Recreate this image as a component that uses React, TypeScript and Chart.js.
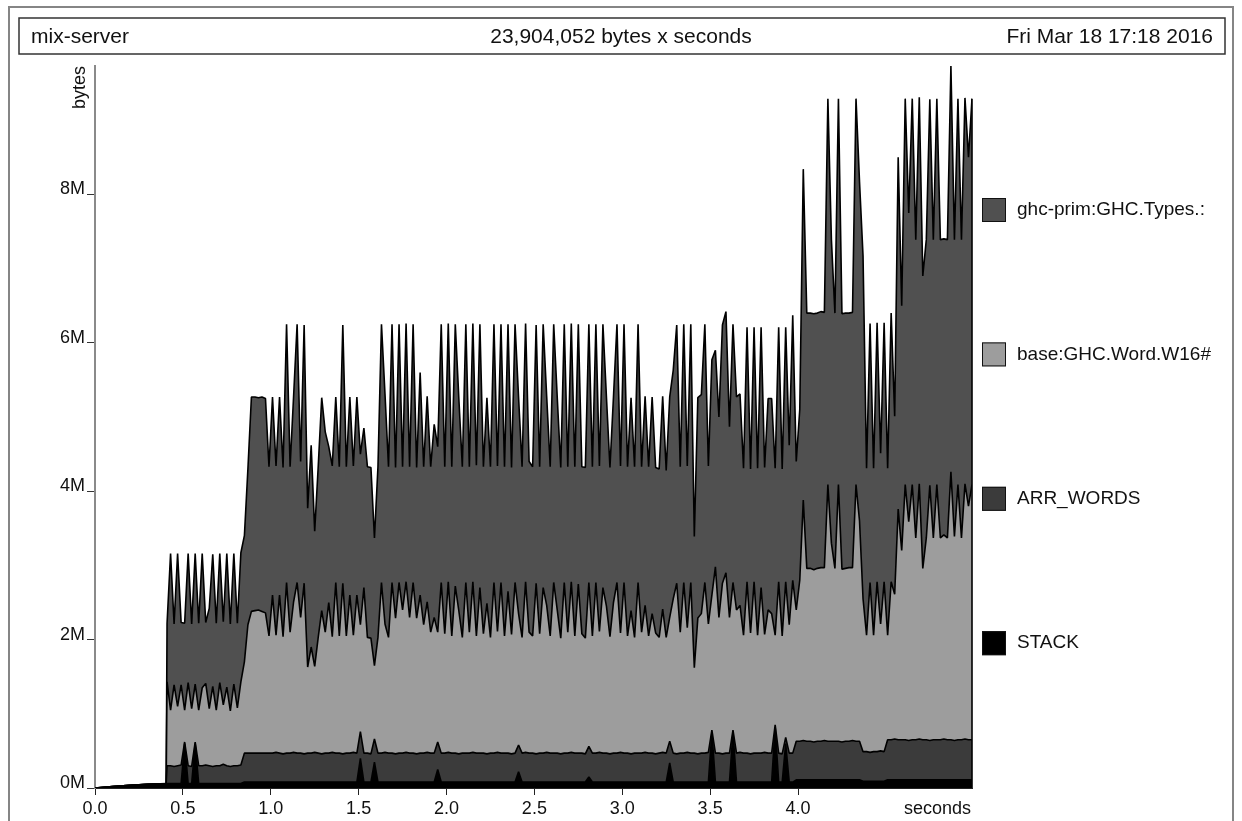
import React, { useEffect, useRef } from "react";
import { Chart, registerables } from "chart.js";

Chart.register(...registerables);

// ---- header texts ----
const TITLE_LEFT = "mix-server";
const TITLE_CENTER = "23,904,052 bytes x seconds";
const TITLE_RIGHT = "Fri Mar 18 17:18 2016";
const Y_UNIT = "bytes";
const X_UNIT = "seconds";

// ---- sample times (seconds) ----
const TIMES = [
  0, 0.1, 0.2, 0.3, 0.405,
  0.41, 0.43, 0.45, 0.47, 0.49, 0.51, 0.53, 0.55, 0.57, 0.59,
  0.61, 0.63, 0.65, 0.67, 0.69, 0.71, 0.73, 0.75, 0.77, 0.79,
  0.81, 0.83, 0.85, 0.87, 0.89, 0.91, 0.93, 0.95, 0.97, 0.99,
  1.01, 1.03, 1.05, 1.07, 1.09, 1.11, 1.13, 1.15, 1.17, 1.19,
  1.21, 1.23, 1.25, 1.27, 1.29, 1.31, 1.33, 1.35, 1.37, 1.39,
  1.41, 1.43, 1.45, 1.47, 1.49, 1.51, 1.53, 1.55, 1.57, 1.59,
  1.61, 1.63, 1.65, 1.67, 1.69, 1.71, 1.73, 1.75, 1.77, 1.79,
  1.81, 1.83, 1.85, 1.87, 1.89, 1.91, 1.93, 1.95, 1.97, 1.99,
  2.01, 2.03, 2.05, 2.07, 2.09, 2.11, 2.13, 2.15, 2.17, 2.19,
  2.21, 2.23, 2.25, 2.27, 2.29, 2.31, 2.33, 2.35, 2.37, 2.39,
  2.41, 2.43, 2.45, 2.47, 2.49, 2.51, 2.53, 2.55, 2.57, 2.59,
  2.61, 2.63, 2.65, 2.67, 2.69, 2.71, 2.73, 2.75, 2.77, 2.79,
  2.81, 2.83, 2.85, 2.87, 2.89, 2.91, 2.93, 2.95, 2.97, 2.99,
  3.01, 3.03, 3.05, 3.07, 3.09, 3.11, 3.13, 3.15, 3.17, 3.19,
  3.21, 3.23, 3.25, 3.27, 3.29, 3.31, 3.33, 3.35, 3.37, 3.39,
  3.41, 3.43, 3.45, 3.47, 3.49, 3.51, 3.53, 3.55, 3.57, 3.59,
  3.61, 3.63, 3.65, 3.67, 3.69, 3.71, 3.73, 3.75, 3.77, 3.79,
  3.81, 3.83, 3.85, 3.87, 3.89, 3.91, 3.93, 3.95, 3.97, 3.99,
  4.01, 4.03, 4.05, 4.07, 4.09, 4.11, 4.13, 4.15, 4.17, 4.19,
  4.21, 4.23, 4.25, 4.27, 4.29, 4.31, 4.33, 4.35, 4.37, 4.39,
  4.41, 4.43, 4.45, 4.47, 4.49, 4.51, 4.53, 4.55, 4.57, 4.59,
  4.61, 4.63, 4.65, 4.67, 4.69, 4.71, 4.73, 4.75, 4.77, 4.79,
  4.81, 4.83, 4.85, 4.87, 4.89, 4.91, 4.93, 4.95, 4.97, 4.99,
];

// ---- series values (millions of bytes) ----
const STACK = [
  0, 0.02, 0.035, 0.05, 0.06,
  0.06, 0.06, 0.06, 0.06, 0.06, 0.6, 0.06, 0.06, 0.6, 0.06,
  0.06, 0.06, 0.06, 0.06, 0.06, 0.06, 0.06, 0.06, 0.06, 0.06,
  0.06, 0.06, 0.08, 0.08, 0.08, 0.08, 0.08, 0.08, 0.08, 0.08,
  0.08, 0.08, 0.08, 0.08, 0.08, 0.08, 0.08, 0.08, 0.08, 0.08,
  0.08, 0.08, 0.08, 0.08, 0.08, 0.08, 0.08, 0.08, 0.08, 0.08,
  0.08, 0.08, 0.08, 0.08, 0.08, 0.4, 0.08, 0.08, 0.08, 0.35,
  0.08, 0.08, 0.08, 0.08, 0.08, 0.08, 0.08, 0.08, 0.08, 0.08,
  0.08, 0.08, 0.08, 0.08, 0.08, 0.08, 0.08, 0.25, 0.08, 0.08,
  0.08, 0.08, 0.08, 0.08, 0.08, 0.08, 0.08, 0.08, 0.08, 0.08,
  0.08, 0.08, 0.08, 0.08, 0.08, 0.08, 0.08, 0.08, 0.08, 0.08,
  0.22, 0.08, 0.08, 0.08, 0.08, 0.08, 0.08, 0.08, 0.08, 0.08,
  0.08, 0.08, 0.08, 0.08, 0.08, 0.08, 0.08, 0.08, 0.08, 0.08,
  0.15, 0.08, 0.08, 0.08, 0.08, 0.08, 0.08, 0.08, 0.08, 0.08,
  0.08, 0.08, 0.08, 0.08, 0.08, 0.08, 0.08, 0.08, 0.08, 0.08,
  0.08, 0.08, 0.08, 0.34, 0.08, 0.08, 0.08, 0.08, 0.08, 0.08,
  0.08, 0.08, 0.08, 0.08, 0.08, 0.75, 0.08, 0.08, 0.08, 0.08,
  0.08, 0.75, 0.08, 0.08, 0.08, 0.08, 0.08, 0.08, 0.08, 0.08,
  0.08, 0.08, 0.08, 0.82, 0.08, 0.08, 0.6, 0.08, 0.08, 0.11,
  0.11, 0.11, 0.11, 0.11, 0.11, 0.11, 0.11, 0.11, 0.11, 0.11,
  0.11, 0.11, 0.11, 0.11, 0.11, 0.11, 0.11, 0.11, 0.09, 0.09,
  0.09, 0.09, 0.09, 0.09, 0.09, 0.11, 0.11, 0.11, 0.11, 0.11,
  0.11, 0.11, 0.11, 0.11, 0.11, 0.11, 0.11, 0.11, 0.11, 0.11,
  0.11, 0.11, 0.11, 0.11, 0.11, 0.11, 0.11, 0.11, 0.11, 0.11,
];

const ARR_WORDS = [
  0, 0, 0, 0, 0,
  0.24, 0.24, 0.23, 0.24, 0.25, 0.02, 0.24, 0.23, 0.02, 0.24,
  0.24, 0.25, 0.24, 0.23, 0.24, 0.24, 0.26, 0.24, 0.23, 0.24,
  0.24, 0.25, 0.39, 0.39, 0.39, 0.39, 0.39, 0.39, 0.39, 0.39,
  0.39, 0.4, 0.39, 0.38, 0.39, 0.39, 0.4, 0.39, 0.39, 0.38,
  0.39, 0.39, 0.4, 0.39, 0.38, 0.39, 0.39, 0.4, 0.39, 0.39,
  0.38, 0.39, 0.39, 0.4, 0.39, 0.36, 0.39, 0.39, 0.38, 0.31,
  0.39, 0.39, 0.4, 0.39, 0.39, 0.38, 0.39, 0.39, 0.4, 0.39,
  0.39, 0.38, 0.39, 0.39, 0.4, 0.39, 0.39, 0.37, 0.39, 0.39,
  0.4, 0.39, 0.39, 0.38, 0.39, 0.39, 0.39, 0.4, 0.39, 0.39,
  0.39, 0.38, 0.39, 0.39, 0.4, 0.39, 0.39, 0.39, 0.38, 0.39,
  0.36, 0.39, 0.4, 0.39, 0.39, 0.38, 0.39, 0.39, 0.4, 0.39,
  0.39, 0.39, 0.38, 0.39, 0.39, 0.4, 0.39, 0.39, 0.39, 0.38,
  0.41, 0.39, 0.39, 0.4, 0.39, 0.39, 0.38, 0.39, 0.39, 0.4,
  0.39, 0.39, 0.38, 0.39, 0.39, 0.39, 0.4, 0.39, 0.39, 0.38,
  0.39, 0.4, 0.39, 0.29, 0.39, 0.38, 0.39, 0.39, 0.4, 0.39,
  0.39, 0.38, 0.39, 0.39, 0.4, 0.03, 0.39, 0.39, 0.38, 0.39,
  0.39, 0.03, 0.39, 0.4, 0.39, 0.39, 0.38, 0.39, 0.39, 0.39,
  0.4, 0.39, 0.39, 0.03, 0.39, 0.38, 0.08, 0.39, 0.39, 0.52,
  0.52, 0.53, 0.52, 0.52, 0.51, 0.52, 0.52, 0.53, 0.52, 0.52,
  0.52, 0.52, 0.51, 0.52, 0.52, 0.53, 0.52, 0.52, 0.4, 0.4,
  0.39, 0.4, 0.4, 0.41, 0.4, 0.54, 0.54, 0.55, 0.54, 0.54,
  0.54, 0.53, 0.54, 0.54, 0.55, 0.54, 0.54, 0.53, 0.54, 0.54,
  0.54, 0.55, 0.54, 0.54, 0.53, 0.54, 0.54, 0.55, 0.54, 0.54,
];

const WORD_W16 = [
  0, 0, 0, 0, 0,
  1.13, 0.75, 1.1, 0.8, 1.08, 0.43, 1.12, 0.78, 0.78, 0.75,
  1.05, 1.1, 0.77, 1.08, 0.75, 1.12, 0.8, 1.06, 0.75, 1.1,
  0.78, 1.12, 1.23, 1.73, 1.91, 1.92, 1.93, 1.91, 1.89, 1.58,
  2.13, 1.58, 2.13, 1.58, 2.3, 1.63, 2.03, 2.3, 1.83, 2.3,
  1.16, 1.43, 1.16, 1.56, 1.93, 1.63, 2.03, 1.56, 2.3, 1.58,
  2.3, 1.58, 2.13, 1.58, 2.13, 1.44, 2.23, 1.56, 1.56, 0.99,
  1.56, 2.3, 1.73, 1.56, 2.3, 1.83, 2.3, 1.93, 2.3, 1.83,
  2.3, 1.83, 2.13, 1.73, 2.03, 1.63, 1.83, 1.48, 2.3, 1.61,
  2.3, 1.58, 2.25, 1.93, 1.56, 2.3, 1.63, 2.3, 1.58, 2.23,
  1.61, 2.03, 1.56, 2.3, 1.63, 2.3, 1.58, 2.18, 1.61, 2.3,
  1.77, 1.56, 2.3, 1.63, 1.58, 2.3, 1.61, 2.23, 1.98, 1.58,
  2.3, 1.93, 1.56, 2.3, 1.63, 2.3, 1.58, 2.28, 1.61, 1.56,
  2.21, 1.58, 2.3, 1.63, 2.23, 1.98, 1.58, 2.03, 2.3, 1.61,
  2.3, 1.58, 1.93, 1.56, 2.3, 1.63, 1.98, 1.58, 1.88, 1.63,
  1.56, 1.93, 1.56, 1.67, 2.08, 2.3, 1.63, 2.3, 1.68, 2.3,
  1.15, 1.83, 1.88, 2.3, 1.73, 1.82, 2.51, 1.83, 2.3, 2.43,
  1.83, 1.99, 1.93, 1.98, 1.59, 2.31, 1.63, 2.31, 1.59, 2.23,
  1.59, 1.93, 1.88, 1.21, 2.31, 1.59, 2.1, 1.73, 2.33, 1.77,
  2.17, 3.24, 2.33, 2.33, 2.32, 2.33, 2.34, 2.33, 3.46, 2.67,
  2.33, 3.46, 2.33, 2.33, 2.34, 2.33, 3.46, 2.97, 2.06, 1.57,
  2.29, 1.57, 2.29, 1.71, 2.29, 1.41, 2.13, 1.95, 3.11, 2.55,
  3.44, 2.95, 3.44, 2.72, 3.44, 2.31, 2.72, 3.44, 2.72, 3.44,
  2.72, 2.75, 2.72, 3.61, 2.75, 3.44, 2.72, 3.44, 3.15, 3.44,
];

const GHC_CONS = [
  0, 0, 0, 0, 0,
  0.79, 2.11, 0.82, 2.06, 0.84, 1.17, 1.74, 1.14, 1.76, 1.17,
  1.81, 0.82, 1.35, 1.78, 1.17, 1.74, 1.12, 1.8, 1.17, 1.76,
  1.14, 1.74, 1.7, 2.1, 2.89, 2.88, 2.86, 2.89, 2.89, 2.28,
  2.67, 2.28, 2.67, 2.28, 3.48, 2.23, 2.77, 3.48, 2.1, 3.48,
  2.14, 2.72, 1.82, 2.3, 2.87, 2.7, 2.1, 2.3, 2.5, 2.28,
  3.48, 2.28, 2.67, 2.28, 2.67, 2.3, 2.15, 2.3, 2.3, 1.72,
  2.3, 3.48, 3.1, 2.3, 3.48, 2.03, 3.48, 1.93, 3.48, 2.03,
  3.48, 2.03, 3.0, 2.13, 2.77, 2.23, 2.6, 2.5, 3.48, 2.25,
  3.48, 2.28, 3.53, 2.87, 2.3, 3.48, 2.23, 3.48, 2.3, 3.55,
  2.25, 2.77, 2.3, 3.48, 2.23, 3.48, 2.28, 3.6, 2.25, 3.48,
  2.92, 2.3, 3.48, 2.3, 2.28, 3.48, 2.25, 3.55, 2.82, 2.28,
  3.48, 2.87, 2.3, 3.48, 2.23, 3.48, 2.28, 3.5, 2.25, 2.3,
  3.48, 2.28, 3.48, 2.23, 3.55, 2.82, 2.28, 2.77, 3.48, 2.25,
  3.48, 2.28, 2.87, 2.3, 3.48, 2.23, 2.82, 2.28, 2.92, 2.23,
  2.27, 2.87, 2.25, 2.97, 3.08, 3.48, 2.23, 3.48, 2.18, 3.48,
  1.77, 2.97, 2.95, 3.48, 2.13, 3.17, 2.92, 2.7, 3.48, 3.52,
  2.57, 3.48, 2.87, 2.85, 2.25, 3.43, 2.21, 3.43, 2.25, 3.51,
  2.25, 2.85, 2.9, 2.25, 3.43, 2.25, 3.43, 2.42, 3.57, 2.0,
  2.3, 4.46, 3.44, 3.44, 3.45, 3.44, 3.45, 3.44, 5.2, 4.09,
  3.44, 5.2, 3.44, 3.44, 3.43, 3.44, 5.2, 4.57, 4.62, 2.25,
  3.49, 2.25, 3.49, 2.3, 3.49, 2.25, 3.62, 2.4, 4.74, 3.3,
  5.2, 4.16, 5.2, 4.02, 5.21, 3.94, 4.02, 5.2, 4.02, 5.2,
  4.02, 3.99, 4.02, 5.47, 4.0, 5.2, 4.02, 5.2, 4.7, 5.2,
];

// legend, top to bottom
const LEGEND_LABELS = ["ghc-prim:GHC.Types.:", "base:GHC.Word.W16#", "ARR_WORDS", "STACK"];
const LEGEND_COLORS = ["#505050", "#9d9d9d", "#3b3b3b", "#000000"];

const X_MAX = 4.99;
const Y_MAX = 9.73;
const X_STEP = 0.5;
const Y_STEP = 2;
const X_LAST_LABEL = 4.0;

const FONT = '"Liberation Sans", Arial, Helvetica, sans-serif';

const pts = (vals: number[]) => vals.map((v, i) => ({ x: TIMES[i], y: v }));

const framePlugin = {
  id: "hpFrame",
  beforeDraw(chart: any) {
    const ctx = chart.ctx as CanvasRenderingContext2D;
    const W = chart.width;
    const H = chart.height;
    ctx.save();
    ctx.fillStyle = "#ffffff";
    ctx.fillRect(0, 0, W, H);
    // outer frame
    ctx.strokeStyle = "#858585";
    ctx.lineWidth = 2;
    ctx.strokeRect(9, 7, 1224, 840);
    // title box
    ctx.strokeStyle = "#333333";
    ctx.lineWidth = 1.5;
    ctx.strokeRect(19, 18, 1206, 36);
    ctx.fillStyle = "#111111";
    ctx.font = `21px ${FONT}`;
    ctx.textBaseline = "middle";
    ctx.textAlign = "left";
    ctx.fillText(TITLE_LEFT, 31, 37);
    ctx.textAlign = "center";
    ctx.fillText(TITLE_CENTER, 621, 37);
    ctx.textAlign = "right";
    ctx.fillText(TITLE_RIGHT, 1213, 37);
    ctx.restore();
  },
  afterDatasetsDraw(chart: any) {
    const ctx = chart.ctx as CanvasRenderingContext2D;
    const meta = chart.getDatasetMeta(chart.data.datasets.length - 1);
    const last = meta.data[meta.data.length - 1];
    if (last) {
      ctx.save();
      ctx.strokeStyle = "#000";
      ctx.lineWidth = 1.6;
      ctx.beginPath();
      ctx.moveTo(last.x, chart.chartArea.bottom);
      ctx.lineTo(last.x, last.y);
      ctx.stroke();
      ctx.restore();
    }
  },
  afterDraw(chart: any) {
    const ctx = chart.ctx as CanvasRenderingContext2D;
    const area = chart.chartArea;
    ctx.save();
    ctx.fillStyle = "#111111";
    // y unit, rotated
    ctx.font = `18px ${FONT}`;
    ctx.save();
    ctx.translate(80, area.top);
    ctx.rotate(-Math.PI / 2);
    ctx.textAlign = "right";
    ctx.textBaseline = "middle";
    ctx.fillText(Y_UNIT, 0, 0);
    ctx.restore();
    // x unit
    ctx.textAlign = "right";
    ctx.textBaseline = "middle";
    ctx.fillText(X_UNIT, area.right - 1, 809);
    // legend
    ctx.font = `19px ${FONT}`;
    ctx.textAlign = "left";
    LEGEND_LABELS.forEach((label, i) => {
      const cy = 210 + i * 144.4;
      ctx.fillStyle = LEGEND_COLORS[i];
      ctx.fillRect(982, cy - 12, 24, 24);
      ctx.strokeStyle = "#111";
      ctx.lineWidth = 1;
      ctx.strokeRect(982.5, cy - 11.5, 23, 23);
      ctx.fillStyle = "#111111";
      ctx.fillText(label, 1017, cy);
    });
    ctx.restore();
  },
};

export default function App() {
  const ref = useRef<HTMLCanvasElement>(null);

  useEffect(() => {
    const canvas = ref.current;
    if (!canvas) return;
    const common = {
      borderColor: "#000000",
      borderWidth: 1.6,
      borderJoinStyle: "bevel" as const,
      pointRadius: 0,
      pointHoverRadius: 0,
      tension: 0,
    };
    const chart = new Chart(canvas, {
      type: "line",
      data: {
        datasets: [
          { ...common, label: LEGEND_LABELS[3], data: pts(STACK), backgroundColor: LEGEND_COLORS[3], fill: "origin" },
          { ...common, label: LEGEND_LABELS[2], data: pts(ARR_WORDS), backgroundColor: LEGEND_COLORS[2], fill: "-1" },
          { ...common, label: LEGEND_LABELS[1], data: pts(WORD_W16), backgroundColor: LEGEND_COLORS[1], fill: "-1" },
          { ...common, label: LEGEND_LABELS[0], data: pts(GHC_CONS), backgroundColor: LEGEND_COLORS[0], fill: "-1" },
        ],
      },
      options: {
        responsive: false,
        devicePixelRatio: 1,
        animation: false,
        events: [],
        layout: { padding: { left: 0, right: 270, top: 66, bottom: 0 } },
        plugins: {
          legend: { display: false },
          tooltip: { enabled: false },
          title: { display: false },
        },
        scales: {
          x: {
            type: "linear",
            min: 0,
            max: X_MAX,
            afterFit: (s: any) => {
              s.height = 33;
            },
            afterBuildTicks: (s: any) => {
              s.ticks = s.ticks.filter((t: any) => t.value <= X_LAST_LABEL + 1e-6);
            },
            ticks: {
              stepSize: X_STEP,
              includeBounds: false,
              autoSkip: false,
              maxRotation: 0,
              padding: 3,
              color: "#111111",
              font: { family: FONT, size: 18 },
              callback: (v: any) => Number(v).toFixed(1),
            },
            grid: { drawOnChartArea: false, drawTicks: true, tickLength: 7, tickColor: "#222222", color: "#222222" },
            border: { display: true, color: "#222222", width: 1 },
          },
          y: {
            type: "linear",
            stacked: true,
            min: 0,
            max: Y_MAX,
            afterFit: (s: any) => {
              s.width = 95;
            },
            ticks: {
              stepSize: Y_STEP,
              includeBounds: false,
              padding: 2,
              labelOffset: -5,
              color: "#111111",
              font: { family: FONT, size: 18 },
              callback: (v: any) => `${v}M`,
            },
            grid: { drawOnChartArea: false, drawTicks: true, tickLength: 8, tickColor: "#333333", color: "#333333" },
            border: { display: true, color: "#8a8a8a", width: 2 },
          },
        },
      },
      plugins: [framePlugin],
    });
    return () => chart.destroy();
  }, []);

  return (
    <div style={{ position: "fixed", left: 0, top: 0, width: 1242, height: 821, background: "#ffffff" }}>
      <canvas ref={ref} width={1242} height={821} style={{ display: "block", width: 1242, height: 821 }} />
    </div>
  );
}
